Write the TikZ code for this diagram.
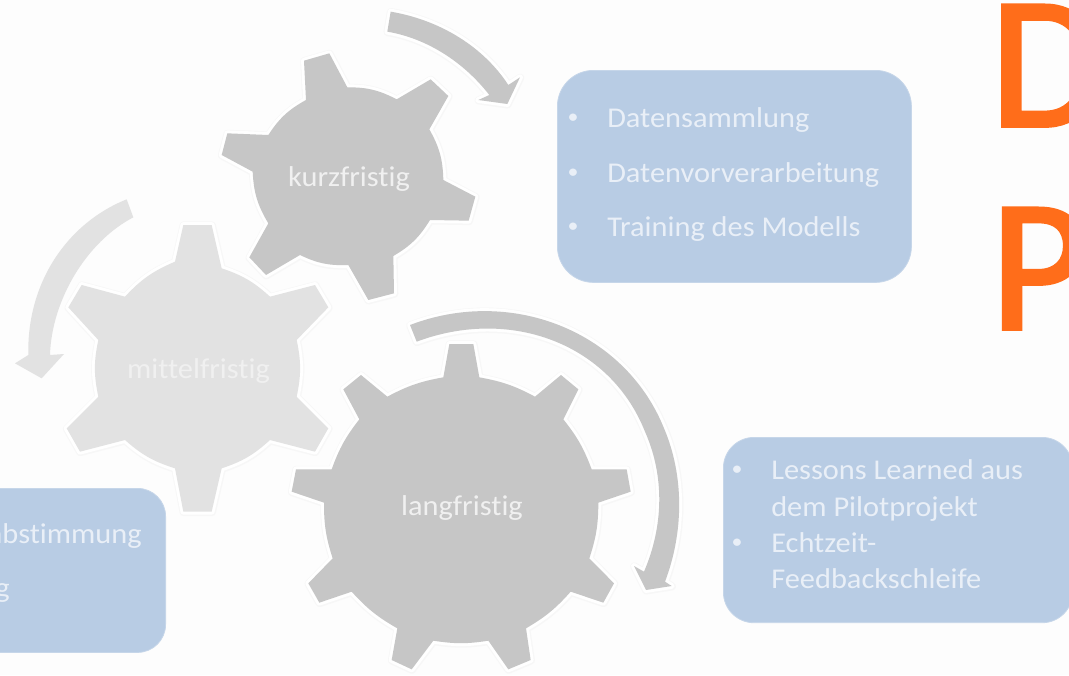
\documentclass[tikz,border=0pt]{standalone}
\usepackage{fontspec}
\setmainfont[Ligatures=NoCommon,FakeStretch=1.06]{Carlito}
\newfontfamily\titlefont[FakeBold=2]{Carlito}
\definecolor{pagebg}{HTML}{FDFDFD}
\definecolor{gearDark}{HTML}{C6C6C6}
\definecolor{gearLight}{HTML}{E2E2E2}
\definecolor{boxBlue}{HTML}{B8CCE4}
\definecolor{boxText}{HTML}{E9EFF7}
\definecolor{lightText}{HTML}{F0F0F0}
\definecolor{accent}{HTML}{FF6D1A}
\tikzset{
  halo/.style={draw=black!3,line width=6pt,line join=round,xshift=0.6pt,yshift=-1pt},
  rim/.style={draw=white,line width=4.4pt,line join=round},
  geartext/.style={font=\fontsize{21.5}{24}\selectfont,inner sep=0pt},
  boxtext/.style={font=\fontsize{21.5}{24}\selectfont,text=boxText,inner sep=0pt,anchor=base west},
  boxbullet/.style={font=\fontsize{15.5}{18}\selectfont,text=boxText,inner sep=0pt,anchor=base},
  panel/.style={fill=boxBlue,draw=boxBlue!80!white,line width=0.6pt},
  bigletter/.style={font=\titlefont\fontsize{141}{141}\selectfont,text=accent,inner sep=0pt,anchor=base west}
}
\newcommand{\gearK}{(318,300) -- (312,182) -- (388,160) -- (442,262) to[bend left=14] (590,298) -- (692,238) -- (745,288) -- (688,388) to[bend left=14] (730,540) -- (826,590) -- (806,662) -- (690,660) to[bend left=14] (580,768) -- (582,880) -- (505,900) -- (445,795) to[bend left=14] (300,765) -- (198,825) -- (148,772) -- (205,670) to[bend left=14] (158,515) -- (65,465) -- (82,400) -- (205,405) to[bend left=14] cycle}
\newcommand{\gearM}{(525,215) -- (550,105) -- (635,105) -- (665,235) to[bend left=12] (810,320) -- (945,285) -- (985,352) -- (890,450) to[bend left=12] (890,620) -- (985,715) -- (945,785) -- (810,750) to[bend left=12] (665,835) -- (635,965) -- (550,965) -- (525,835) to[bend left=12] (375,750) -- (240,785) -- (200,715) -- (295,620) to[bend left=12] (295,450) -- (205,352) -- (245,285) -- (375,320) to[bend left=12] cycle}
\newcommand{\gearL}{(490,232) -- (508,132) -- (580,132) -- (598,232) to[bend left=9] (765,290) -- (843,225) -- (895,268) -- (850,358) to[bend left=9] (935,508) -- (1040,508) -- (1052,575) -- (955,608) to[bend left=9] (928,775) -- (1002,850) -- (970,908) -- (872,875) to[bend left=9] (738,985) -- (752,1080) -- (685,1108) -- (625,1022) to[bend left=9] (460,1022) -- (395,1108) -- (335,1080) -- (352,985) to[bend left=9] (215,875) -- (118,908) -- (85,850) -- (158,775) to[bend left=9] (132,608) -- (35,575) -- (48,508) -- (155,508) to[bend left=9] (238,358) -- (190,268) -- (243,225) -- (322,290) to[bend left=9] cycle}
\newcommand{\arrowK}{(572,35) .. controls (720,60) and (850,140) .. (925,255) -- (960,232) -- (922,312) -- (835,300) -- (868,285) .. controls (790,185) and (680,115) .. (562,95) -- cycle}
\newcommand{\arrowM}{(380,28) .. controls (200,100) and (80,280) .. (85,495) -- (45,520) -- (125,565) -- (192,492) -- (150,495) .. controls (155,330) and (260,155) .. (400,82) -- cycle}
\newcommand{\arrowL}{(390,75) .. controls (690,-40) and (1030,90) .. (1150,380) .. controls (1215,530) and (1210,700) .. (1155,845) -- (1175,858) -- (1098,870) -- (1062,798) -- (1092,815) .. controls (1150,680) and (1155,530) .. (1095,395) .. controls (990,130) and (690,20) .. (410,125) -- cycle}
\newcommand{\withrim}[2]{\draw[halo] #1; \draw[rim] #1; \fill[#2] #1;}
\begin{document}
\begin{tikzpicture}[x=0.75pt,y=-0.75pt]
\useasboundingbox (0,0) rectangle (1069,675);
\fill[pagebg] (0,0) rectangle (1069,675);
\begin{scope}
\clip (0,0) rectangle (1069,675);
% panels
\node[panel,rounded corners=27pt,minimum width=265.5pt,minimum height=159pt,inner sep=0pt,anchor=north west] (box1) at (557,70) {};
\node[panel,rounded corners=23pt,minimum width=262pt,minimum height=139pt,inner sep=0pt,anchor=north west] (box2) at (723,437) {};
\node[panel,rounded corners=21pt,minimum width=200pt,minimum height=123pt,inner sep=0pt,anchor=north east] (box3) at (166,488) {};
% middle gear and arrow
\begin{scope}[shift={(0,190)},scale=1/3]
  \fill[gearLight] \arrowM;
  \withrim{\gearM}{gearLight}
\end{scope}
% short-term gear and arrow
\begin{scope}[shift={(200,0)},scale=1/3]
  \withrim{\arrowK}{gearDark}
  \withrim{\gearK}{gearDark}
\end{scope}
% long-term gear and arrow
\begin{scope}[shift={(280,300)},scale=1/3]
  \withrim{\arrowL}{gearDark}
  \withrim{\gearL}{gearDark}
\end{scope}
\node[geartext,text=lightText] (kurz) at (349,179) {kurzfristig};
\node[geartext,text=lightText] (mittel) at (198.5,371) {mittelfristig};
\node[geartext,text=lightText] (lang) at (462,508) {langfristig};
% panel texts
\node[boxbullet] (b1) at (573,123) {•};
\node[boxtext] (t1) at (607,127) {Datensammlung};
\node[boxbullet] (b2) at (573,178) {•};
\node[boxtext] (t2) at (607,182) {Datenvorverarbeitung};
\node[boxbullet] (b3) at (573,232) {•};
\node[boxtext] (t3) at (607,236) {Training des Modells};
\node[boxbullet] (b4) at (737,475) {•};
\node[boxtext] (t4) at (771,479) {Lessons Learned aus};
\node[boxtext] (t5) at (771,516) {dem Pilotprojekt};
\node[boxbullet] (b5) at (737,548) {•};
\node[boxtext] (t6) at (771,552) {Echtzeit-};
\node[boxtext] (t7) at (771,588) {Feedbackschleife};
\node[boxtext,anchor=base east] (t8) at (142,543) {abstimmung};
\node[boxtext,anchor=base east] (t9) at (10,597) {g};
% title letters
\node[bigletter] (d) at (990,126) {D};
\node[bigletter] (p) at (990,329) {P};
\end{scope}
\end{tikzpicture}
\end{document}
